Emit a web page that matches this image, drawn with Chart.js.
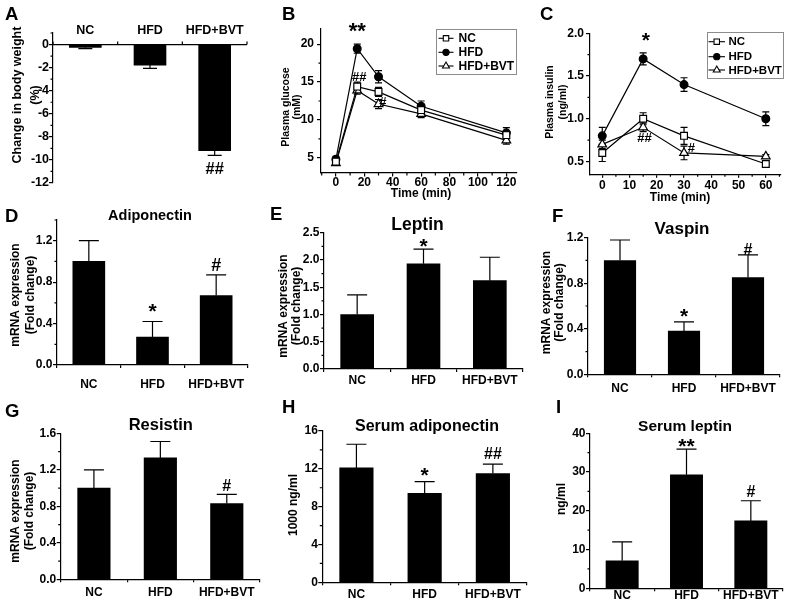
<!DOCTYPE html>
<html>
<head>
<meta charset="utf-8">
<script src="https://cdn.jsdelivr.net/npm/chart.js@4.4.1/dist/chart.umd.min.js"></script>
<style>
  html, body { margin: 0; padding: 0; background: #fff; }
  #fig { position: relative; width: 787px; height: 606px; overflow: hidden; }
  #fig canvas { position: absolute; left: 0; top: 0; }
</style>
</head>
<body>
<div id="fig"></div>
<script>
// ---------- data ----------
const groups = ["NC", "HFD", "HFD+BVT"];

// A: change in body weight (%)
const bodyWeight = [-0.24, -1.78, -9.2];
const bodyWeightErr = [0.12, 0.28, 0.4];
const bodyWeightTicks = [-12, -10, -8, -6, -4, -2, 0];
const bodyWeightMarks = [["##", 2, -10.7]];

// B: plasma glucose (mM) over time
const glucoseTime = [0, 15, 30, 60, 120];
const glucoseNC = [4.5, 14.4, 13.7, 11.3, 8.0];
const glucoseNCErr = [0.4, 0.6, 0.6, 0.5, 0.5];
const glucoseHFD = [4.8, 19.4, 15.7, 11.8, 8.3];
const glucoseHFDErr = [0.4, 0.6, 0.8, 0.7, 0.7];
const glucoseBVT = [4.3, 13.9, 12.1, 10.8, 7.3];
const glucoseBVTErr = [0.3, 0.5, 0.6, 0.5, 0.5];
const glucoseXTicks = [0, 20, 40, 60, 80, 100, 120];
const glucoseYTicks = [5, 10, 15, 20];
const glucoseMarks = [["**", 15, 21.4], ["##", 16.5, 15.75], ["#", 33, 12.45]];

// C: plasma insulin (ng/ml) over time
const insulinTime = [0, 15, 30, 60];
const insulinNC = [0.6, 1.0, 0.8, 0.47];
const insulinNCErr = [0.1, 0.07, 0.1, 0.04];
const insulinHFD = [0.8, 1.7, 1.4, 1.0];
const insulinHFDErr = [0.1, 0.07, 0.08, 0.08];
const insulinBVT = [0.7, 0.9, 0.6, 0.56];
const insulinBVTErr = [0.05, 0.05, 0.08, 0.02];
const insulinXTicks = [0, 10, 20, 30, 40, 50, 60];
const insulinYTicks = [0.5, 1.0, 1.5, 2.0];
const insulinMarks = [["*", 16, 1.89], ["##", 15.5, 0.78], ["#", 32.7, 0.665]];

// D: adiponectin mRNA
const adipoMRNA = [1.0, 0.27, 0.67];
const adipoMRNAErr = [0.2, 0.15, 0.2];
const adipoTicks = [0, 0.4, 0.8, 1.2];
const adipoMarks = [["*", 1, 0.55], ["#", 2, 0.973]];

// E: leptin mRNA
const leptinMRNA = [1.0, 1.93, 1.62];
const leptinMRNAErr = [0.36, 0.27, 0.43];
const leptinTicks = [0, 0.5, 1.0, 1.5, 2.0, 2.5];
const leptinMarks = [["*", 1, 2.32]];

// F: vaspin mRNA
const vaspinMRNA = [1.0, 0.38, 0.85];
const vaspinMRNAErr = [0.18, 0.08, 0.2];
const vaspinTicks = [0, 0.4, 0.8, 1.2];
const vaspinMarks = [["*", 1, 0.54], ["#", 2, 1.105]];

// G: resistin mRNA
const resistinMRNA = [1.0, 1.33, 0.83];
const resistinMRNAErr = [0.2, 0.18, 0.1];
const resistinTicks = [0, 0.4, 0.8, 1.2, 1.6];
const resistinMarks = [["#", 2, 1.03]];

// H: serum adiponectin (1000 ng/ml)
const serumAdipo = [12.1, 9.4, 11.5];
const serumAdipoErr = [2.5, 1.25, 1.0];
const serumAdipoTicks = [0, 4, 8, 12, 16];
const serumAdipoMarks = [["*", 1, 11.67], ["##", 2, 13.65]];

// I: serum leptin (ng/ml)
const serumLeptin = [7.1, 29.3, 17.4];
const serumLeptinErr = [4.9, 6.6, 5.2];
const serumLeptinTicks = [0, 10, 20, 30, 40];
const serumLeptinMarks = [["**", 1, 37.6], ["#", 2, 25.2]];

// ---------- layout (page pixels) ----------
const W = 787, H = 650; // canvases run past the 606px page, which crops them
const FONT = '"Liberation Sans", Arial, Helvetica, sans-serif';
const YW = 40; // width of every y axis box
const XH = 30; // height of every x axis box (tick labels are clipped to it)

const layA = { area: [53, 33, 247, 183], y: [-12, 1], letter: ["A", 5, 19.5], yPad: 0, tick: 12.5,
  yTitle: { lines: ["Change in body weight", "(%)"], xs: [17.5, 36], y: 95, size: 12.5 },
  topAxis: 11, bar: 32, cap: 7, hash: 16.5, star: 20 };
const layB = { area: [321, 29, 517, 173], x: [-10.5, 127.5], y: [3, 22], letter: ["B", 282, 19.5], yPad: 3, tick: 12,
  yTitle: { lines: ["Plasma glucose", "(mM)"], xs: [286, 297], y: 107, size: 10.5 },
  xTitle: ["Time (min)", 421, 194, 12], labelPad: -1, cap: 3.5, hash: 13, star: 22,
  legend: { box: [436, 29, 516, 74], rows: [38.3, 52.3, 66], line: [438.5, 453.5], textX: 458.5, size: 12 } };
const layC = { area: [590, 33.3, 783, 174.3], x: [-4.5, 65.5], y: [0.35, 2.0], letter: ["C", 540, 19.5], yPad: 2, tick: 12,
  yTitle: { lines: ["Plasma insulin", "(ng/ml)"], xs: [550, 563.5], y: 102, size: 10.5 },
  xTitle: ["Time (min)", 680, 198, 12], labelPad: 0.5, cap: 3.5, hash: 13, star: 21,
  legend: { box: [707, 32, 783, 78], rows: [41.7, 56.7, 70], line: [708.5, 725], textX: 728.5, size: 11.5 } };
const layD = { area: [57, 220, 248, 365], y: [0, 1.4], letter: ["D", 5, 221.5], yPad: 0.5, tick: 12,
  title: ["Adiponectin", 150, 220, 14.5],
  yTitle: { lines: ["mRNA expression", "(Fold change)"], xs: [16, 30.5], y: 295, size: 12 },
  labelPad: 9, bar: 32, cap: 10, hash: 18, star: 21 };
const layE = { area: [324, 232.7, 523, 369], y: [0, 2.5], letter: ["E", 270, 220], yPad: 0.5, tick: 12,
  title: ["Leptin", 417.5, 230, 17.5],
  yTitle: { lines: ["mRNA expression", "(Fold change)"], xs: [283.3, 296.7], y: 306, size: 12 },
  labelPad: 1, bar: 33, cap: 10, hash: 16, star: 21 };
const layF = { area: [588, 237.7, 780, 374.3], y: [0, 1.2], letter: ["F", 552, 221.5], yPad: 0.5, tick: 12,
  title: ["Vaspin", 682, 234.3, 17],
  yTitle: { lines: ["mRNA expression", "(Fold change)"], xs: [546.7, 560], y: 302.5, size: 12 },
  labelPad: 4.3, bar: 31.5, cap: 10, hash: 16, star: 21 };
const layG = { area: [60.7, 433.3, 260, 579.3], y: [0, 1.6], letter: ["G", 5, 417.3], yPad: 0.5, tick: 12,
  title: ["Resistin", 160.8, 430, 16.5],
  yTitle: { lines: ["mRNA expression", "(Fold change)"], xs: [15.3, 30], y: 511, size: 12 },
  labelPad: 3, bar: 32.5, cap: 10, hash: 16, star: 21 };
const layH = { area: [322.3, 431, 527, 582.3], y: [0, 16], letter: ["H", 282, 413.3], yPad: 0.5, tick: 12,
  title: ["Serum adiponectin", 427, 430.5, 16],
  yTitle: { lines: ["1000 ng/ml"], xs: [293.3], y: 505, size: 12 },
  labelPad: 1.8, bar: 33.5, cap: 10, hash: 16, star: 21 };
const layI = { area: [590, 433.3, 783, 588.3], y: [0, 40], letter: ["I", 556, 413.3], yPad: 0.5, tick: 12,
  title: ["Serum leptin", 685, 430.5, 15.5],
  yTitle: { lines: ["ng/ml"], xs: [561.7], y: 499, size: 12 },
  labelPad: -3, bar: 32.3, cap: 10, hash: 16, star: 21 };

// ---------- helpers ----------
const fig = document.getElementById("fig");

function newCanvas() {
  const cv = document.createElement("canvas");
  cv.width = W;
  cv.height = H;
  fig.appendChild(cv);
  return cv;
}

function txt(ctx, s, x, y, size, align, base) {
  ctx.font = `bold ${size}px ${FONT}`;
  ctx.textAlign = align || "center";
  ctx.textBaseline = base || "alphabetic";
  ctx.fillText(s, x, y);
}

function drawMarker(ctx, style, x, y, r, fill) {
  ctx.beginPath();
  if (style === "circle") {
    ctx.arc(x, y, r, 0, Math.PI * 2);
  } else if (style === "rect") {
    const s = r * Math.SQRT1_2;
    ctx.rect(x - s, y - s, 2 * s, 2 * s);
  } else {
    ctx.moveTo(x, y - r);
    ctx.lineTo(x + 0.866 * r, y + 0.5 * r);
    ctx.lineTo(x - 0.866 * r, y + 0.5 * r);
    ctx.closePath();
  }
  ctx.fillStyle = fill;
  ctx.fill();
  ctx.stroke();
}

// Origin-style minor ticks half way between the major ones.
function minorTicks(ctx, s, axis) {
  const vals = s.ticks.map((t) => t.value);
  if (vals.length < 2) return;
  const step = vals[1] - vals[0];
  ctx.beginPath();
  for (let v = vals[0] - step / 2; v <= s.max + 1e-9; v += step) {
    if (v < s.min - 1e-9) continue;
    const p = s.getPixelForValue(v);
    if (axis === "y") { ctx.moveTo(s.right - 2.5, p); ctx.lineTo(s.right, p); }
    else { ctx.moveTo(p, s.top); ctx.lineTo(p, s.top + 2.5); }
  }
  ctx.stroke();
}

function makeDecor(spec) {
  const L = spec.lay;
  return {
    id: "decor",
    beforeDatasetsDraw(chart) {
      const { ctx } = chart;
      const xs = chart.scales.x, ys = chart.scales.y;
      ctx.save();
      ctx.strokeStyle = "#000";
      ctx.lineWidth = 1.2;
      minorTicks(ctx, ys, "y");
      if (spec.minorX) minorTicks(ctx, xs, "x");
      // error bars: one-sided on bars, both ways on the time courses
      chart.data.datasets.forEach((ds, i) => {
        const errs = spec.errors[i];
        chart.getDatasetMeta(i).data.forEach((el, j) => {
          const d = ds.data[j];
          const v = typeof d === "object" ? d.y : d;
          const e = errs[j];
          const ends = spec.oneSided ? [v, v + Math.sign(v) * e] : [v - e, v + e];
          const y0 = ys.getPixelForValue(ends[0]);
          const y1 = ys.getPixelForValue(ends[1]);
          ctx.beginPath();
          ctx.moveTo(el.x, y0);
          ctx.lineTo(el.x, y1);
          ctx.moveTo(el.x - L.cap, y1);
          ctx.lineTo(el.x + L.cap, y1);
          if (!spec.oneSided) { ctx.moveTo(el.x - L.cap, y0); ctx.lineTo(el.x + L.cap, y0); }
          ctx.stroke();
        });
      });
      ctx.restore();
    },
    afterDraw(chart) {
      const { ctx } = chart;
      const xs = chart.scales.x, ys = chart.scales.y;
      ctx.save();
      ctx.fillStyle = "#000";
      ctx.strokeStyle = "#000";
      ctx.lineWidth = 1.2;

      // panel A: category axis sits on y = 0 with its labels above
      if (L.topAxis) {
        const a = chart.chartArea;
        const y0 = ys.getPixelForValue(0);
        const n = chart.data.labels.length, cw = (a.right - a.left) / n;
        ctx.beginPath();
        ctx.moveTo(a.left, y0);
        ctx.lineTo(a.right, y0);
        for (let k = 0; k <= n; k++) { ctx.moveTo(a.left + k * cw, y0); ctx.lineTo(a.left + k * cw, y0 - 3); }
        ctx.stroke();
        chart.data.labels.forEach((lab, i) => txt(ctx, lab, xs.getPixelForValue(i), y0 - L.topAxis, 12.5));
      }

      txt(ctx, L.letter[0], L.letter[1], L.letter[2], 18.5, "left");
      if (L.title) txt(ctx, L.title[0], L.title[1], L.title[2], L.title[3]);
      L.yTitle.lines.forEach((line, k) => {
        ctx.save();
        ctx.translate(L.yTitle.xs[k], L.yTitle.y);
        ctx.rotate(-Math.PI / 2);
        txt(ctx, line, 0, 0, L.yTitle.size, "center", "middle");
        ctx.restore();
      });
      if (L.xTitle) txt(ctx, L.xTitle[0], L.xTitle[1], L.xTitle[2], L.xTitle[3], "center", "middle");

      // significance marks, visually centred on their data position
      spec.marks.forEach(([t, xv, yv]) => {
        const size = t.includes("*") ? L.star : L.hash;
        ctx.font = `bold ${size}px ${FONT}`;
        const m = ctx.measureText(t);
        const px = xs.getPixelForValue(xv), py = ys.getPixelForValue(yv);
        txt(ctx, t, px, py + (m.actualBoundingBoxAscent - m.actualBoundingBoxDescent) / 2, size);
      });

      if (L.legend) {
        const g = L.legend;
        ctx.strokeStyle = "#8c8c8c";
        ctx.lineWidth = 1;
        ctx.strokeRect(g.box[0] + 0.5, g.box[1] + 0.5, g.box[2] - g.box[0], g.box[3] - g.box[1]);
        chart.data.datasets.forEach((ds, i) => {
          const y = g.rows[i];
          ctx.strokeStyle = "#000";
          ctx.lineWidth = 1.1;
          ctx.beginPath();
          ctx.moveTo(g.line[0], y);
          ctx.lineTo(g.line[1], y);
          ctx.stroke();
          drawMarker(ctx, ds.pointStyle, (g.line[0] + g.line[1]) / 2, y, ds.pointRadius * 0.8, ds.pointBackgroundColor);
          ctx.fillStyle = "#000";
          txt(ctx, ds.label, g.textX, y + 0.5, g.size, "left", "middle");
        });
      }
      ctx.restore();
    },
  };
}

function padding(lay, xh) {
  const a = lay.area;
  return { padding: { left: a[0] - YW, top: a[1], right: W - a[2], bottom: H - a[3] - xh } };
}

function tickFont(size) {
  return { family: FONT, size: size, weight: "bold" };
}

function valueAxis(lay, ticks, dec) {
  return {
    type: "linear",
    bounds: "data",
    min: lay.y[0],
    max: lay.y[1],
    afterBuildTicks: (s) => { s.ticks = ticks.map((v) => ({ value: v })); },
    afterFit: (s) => { s.width = YW; },
    ticks: { font: tickFont(lay.tick), color: "#000", padding: lay.yPad, callback: (v) => Number(v).toFixed(dec) },
    grid: { drawOnChartArea: false, tickLength: 4, color: "#000", lineWidth: 1.2 },
    border: { color: "#000", width: 1.2 },
  };
}

function barChart(lay, values, errs, ticks, dec, marks) {
  const x = lay.topAxis
    ? { type: "category", display: false, offset: true, afterFit: (s) => { s.height = 0; } }
    : {
        type: "category",
        offset: true,
        afterFit: (s) => { s.height = XH; },
        ticks: { font: tickFont(12), color: "#000", padding: lay.labelPad, maxRotation: 0, autoSkip: false },
        grid: { offset: true, drawOnChartArea: false, tickLength: 3, color: "#000", lineWidth: 1.2 },
        border: { color: "#000", width: 1.2 },
      };
  new Chart(newCanvas(), {
    type: "bar",
    data: {
      labels: groups,
      datasets: [{ data: values, backgroundColor: "#000", borderWidth: 0, barThickness: lay.bar }],
    },
    options: {
      responsive: false,
      animation: false,
      events: [],
      layout: padding(lay, lay.topAxis ? 0 : XH),
      plugins: { legend: { display: false }, tooltip: { enabled: false } },
      scales: { x, y: valueAxis(lay, ticks, dec) },
    },
    plugins: [makeDecor({ lay, errors: [errs], oneSided: true, marks })],
  });
}

const SERIES_STYLE = [
  { pointStyle: "rect", pointRadius: 4.8, pointBackgroundColor: "#fff" },
  { pointStyle: "circle", pointRadius: 3.9, pointBackgroundColor: "#000" },
  { pointStyle: "triangle", pointRadius: 5, pointBackgroundColor: "#fff" },
];

function lineChart(lay, times, series, errs, xTicks, yTicks, dec, marks) {
  const datasets = series.map((s, i) => Object.assign({
    label: groups[i],
    data: times.map((t, j) => ({ x: t, y: s[j] })),
    borderColor: "#000",
    borderWidth: 1.2,
    pointBorderColor: "#000",
    pointBorderWidth: 1.2,
    tension: 0,
  }, SERIES_STYLE[i]));
  new Chart(newCanvas(), {
    type: "line",
    data: { datasets },
    options: {
      responsive: false,
      animation: false,
      events: [],
      layout: padding(lay, XH),
      plugins: { legend: { display: false }, tooltip: { enabled: false } },
      scales: {
        x: {
          type: "linear",
          bounds: "data",
          min: lay.x[0],
          max: lay.x[1],
          afterBuildTicks: (s) => { s.ticks = xTicks.map((v) => ({ value: v })); },
          afterFit: (s) => { s.height = XH; },
          ticks: { font: tickFont(lay.tick), color: "#000", padding: lay.labelPad, maxRotation: 0, autoSkip: false, callback: (v) => String(v) },
          grid: { drawOnChartArea: false, tickLength: 3.5, color: "#000", lineWidth: 1.2 },
          border: { color: "#000", width: 1.2 },
        },
        y: valueAxis(lay, yTicks, dec),
      },
    },
    plugins: [makeDecor({ lay, errors: errs, oneSided: false, minorX: true, marks })],
  });
}

// ---------- panels ----------
barChart(layA, bodyWeight, bodyWeightErr, bodyWeightTicks, 0, bodyWeightMarks);
lineChart(layB, glucoseTime, [glucoseNC, glucoseHFD, glucoseBVT],
  [glucoseNCErr, glucoseHFDErr, glucoseBVTErr], glucoseXTicks, glucoseYTicks, 0, glucoseMarks);
lineChart(layC, insulinTime, [insulinNC, insulinHFD, insulinBVT],
  [insulinNCErr, insulinHFDErr, insulinBVTErr], insulinXTicks, insulinYTicks, 1, insulinMarks);
barChart(layD, adipoMRNA, adipoMRNAErr, adipoTicks, 1, adipoMarks);
barChart(layE, leptinMRNA, leptinMRNAErr, leptinTicks, 1, leptinMarks);
barChart(layF, vaspinMRNA, vaspinMRNAErr, vaspinTicks, 1, vaspinMarks);
barChart(layG, resistinMRNA, resistinMRNAErr, resistinTicks, 1, resistinMarks);
barChart(layH, serumAdipo, serumAdipoErr, serumAdipoTicks, 0, serumAdipoMarks);
barChart(layI, serumLeptin, serumLeptinErr, serumLeptinTicks, 0, serumLeptinMarks);
</script>
</body>
</html>
